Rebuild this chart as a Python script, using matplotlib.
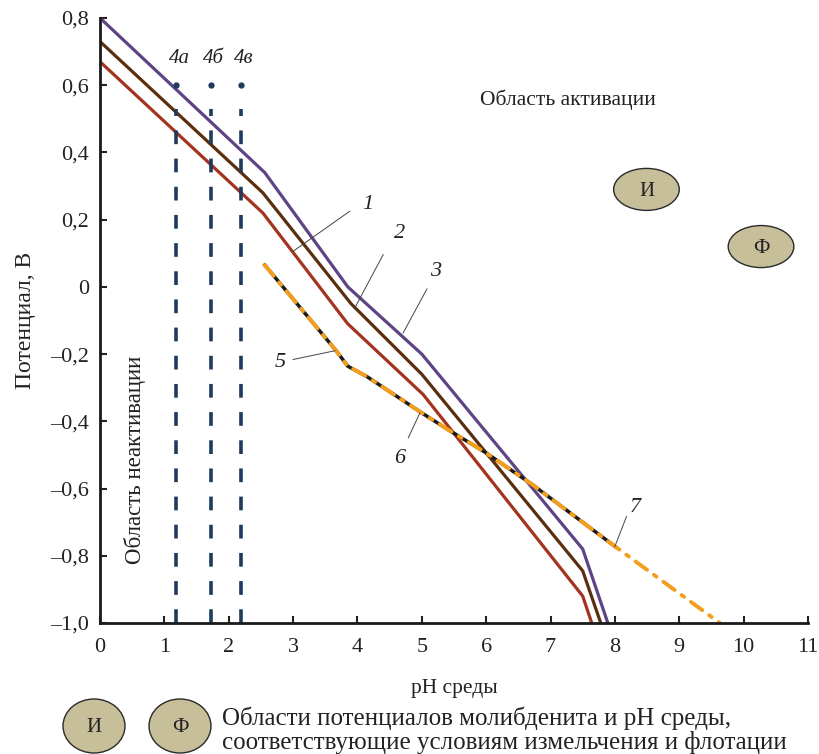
import numpy as np
import matplotlib.pyplot as plt
from matplotlib.patches import Ellipse

plt.rcParams['font.family'] = ['Liberation Serif', 'DejaVu Serif']

# curves 1-3 (potential vs pH)
ph_1 = [0.0, 2.53, 3.85, 5.02, 7.5, 7.64]
e_1 = [0.67, 0.22, -0.11, -0.32, -0.92, -1.0]
ph_2 = [0.0, 2.53, 3.9, 5.0, 7.5, 7.78]
e_2 = [0.73, 0.28, -0.05, -0.26, -0.845, -1.0]
ph_3 = [0.0, 2.56, 3.85, 5.0, 7.5, 7.89]
e_3 = [0.80, 0.34, 0.0, -0.2, -0.78, -1.0]

# curves 5-7 (black) and orange dash-dot line
ph_7 = [2.56, 3.67, 3.85, 4.14, 5.0, 5.41, 6.0, 6.73, 8.0]
e_7 = [0.065, -0.19, -0.236, -0.266, -0.375, -0.425, -0.494, -0.59, -0.772]
ph_or = ph_7 + [9.63]
e_or = e_7 + [-1.0]

# vertical lines 4a, 4б, 4в
ph_4 = [1.18, 1.72, 2.19]
labels_4 = ['4а', '4б', '4в']
e_4_top = 0.60

# regions
region_labels = ['И', 'Ф']
region_ph = [8.49, 10.27]
region_e = [0.29, 0.12]

xticks = list(range(0, 12))
yticks = [-1.0, -0.8, -0.6, -0.4, -0.2, 0.0, 0.2, 0.4, 0.6, 0.8]


def fmt(v):
    s = f'{abs(v):.1f}'.replace('.', ',')
    if v < -1e-9:
        return '–' + s
    if abs(v) < 1e-9:
        return '0'
    return s


fig = plt.figure(figsize=(8.19, 7.54), dpi=100)
ax = fig.add_axes([100/819, 131/754, 708/819, 605/754])

ax.plot(ph_1, e_1, color='#a3341f', lw=2.3, solid_joinstyle='miter')
ax.plot(ph_2, e_2, color='#5b2e0d', lw=2.3, solid_joinstyle='miter')
ax.plot(ph_3, e_3, color='#5e4485', lw=2.3, solid_joinstyle='miter')

ax.plot(ph_7, e_7, color='#1a1a1a', lw=2.5)
ax.plot(ph_or, e_or, color='#f59d1d', lw=2.8, dashes=(3.6, 2.2, 0.8, 2.2), dash_capstyle='round')

for x in ph_4:
    ax.plot([x, x], [-1.0, e_4_top - 0.07], color='#1e3a5c', lw=2.6, dashes=(3.8, 4.0))
    ax.plot([x], [e_4_top], marker='o', ms=3.5, color='#1e3a5c')
for x, lab in zip(ph_4, labels_4):
    ax.text(x + 0.05, 0.65, lab, style='italic', fontsize=15, ha='center', va='bottom', color='#222')

# curve numbers with leader lines
ann = [
    ('1', (3.88, 0.225), (3.0, 0.106), (4.16, 0.245)),
    ('2', (4.40, 0.096), (3.96, -0.062), (4.66, 0.158)),
    ('3', (5.08, -0.006), (4.71, -0.137), (5.22, 0.045)),
    ('5', (3.0, -0.216), (3.65, -0.19), (2.8, -0.225)),
    ('6', (4.79, -0.449), (4.97, -0.375), (4.65, -0.51)),
    ('7', (8.18, -0.683), (8.0, -0.772), (8.31, -0.655)),
]
for lab, p0, p1, pt in ann:
    ax.plot([p0[0], p1[0]], [p0[1], p1[1]], color='#444', lw=0.7)
    ax.text(pt[0], pt[1], lab, style='italic', fontsize=16, ha='center', va='center', color='#222')

for lab, x, y in zip(region_labels, region_ph, region_e):
    ax.add_patch(Ellipse((x, y), 1.02, 0.125, facecolor='#c7bf99', edgecolor='#2a2a2a', lw=1.0, zorder=3))
    ax.text(x, y - 0.005, lab, fontsize=15, ha='center', va='center', zorder=4, color='#222')

ax.text(7.27, 0.556, 'Область активации', fontsize=15.5, ha='center', va='center', color='#222')
ax.text(0.55, -0.515, 'Область неактивации', fontsize=16.5, ha='center', va='center', rotation=90, color='#222')

ax.set_xlim(0, 11)
ax.set_ylim(-1.0, 0.8)
ax.set_xticks(xticks)
ax.set_yticks(yticks)
ax.set_xticklabels([str(t) for t in xticks])
ax.set_yticklabels([fmt(v) for v in yticks])
ax.tick_params(direction='in', length=5, width=1.5, labelsize=16, pad=11, colors='#222')
ax.tick_params(axis='y', pad=8)
for s in ['top', 'right']:
    ax.spines[s].set_visible(False)
for s in ['left', 'bottom']:
    ax.spines[s].set_linewidth(2.0)
    ax.spines[s].set_color('#1a1a1a')

ax.set_xlabel('pH среды', fontsize=15.5, labelpad=16, color='#222')
ax.set_ylabel('Потенциал, В', fontsize=17, labelpad=10, color='#222')

# bottom legend
for lab, cx in zip(region_labels, [94, 180]):
    fig.patches.append(Ellipse((cx/819, 1 - 726/754), 62/819, 54/754, transform=fig.transFigure,
                               facecolor='#c7bf99', edgecolor='#2a2a2a', lw=1.0))
    fig.text(cx/819, 1 - 728/754, lab, fontsize=15, ha='center', va='center', color='#222')
fig.text(222/819, 1 - 730/754,
         'Области потенциалов молибденита и pH среды,\nсоответствующие условиям измельчения и флотации',
         fontsize=18, ha='left', va='center', linespacing=1.05, color='#222')

fig.savefig('out.png', dpi=100)
